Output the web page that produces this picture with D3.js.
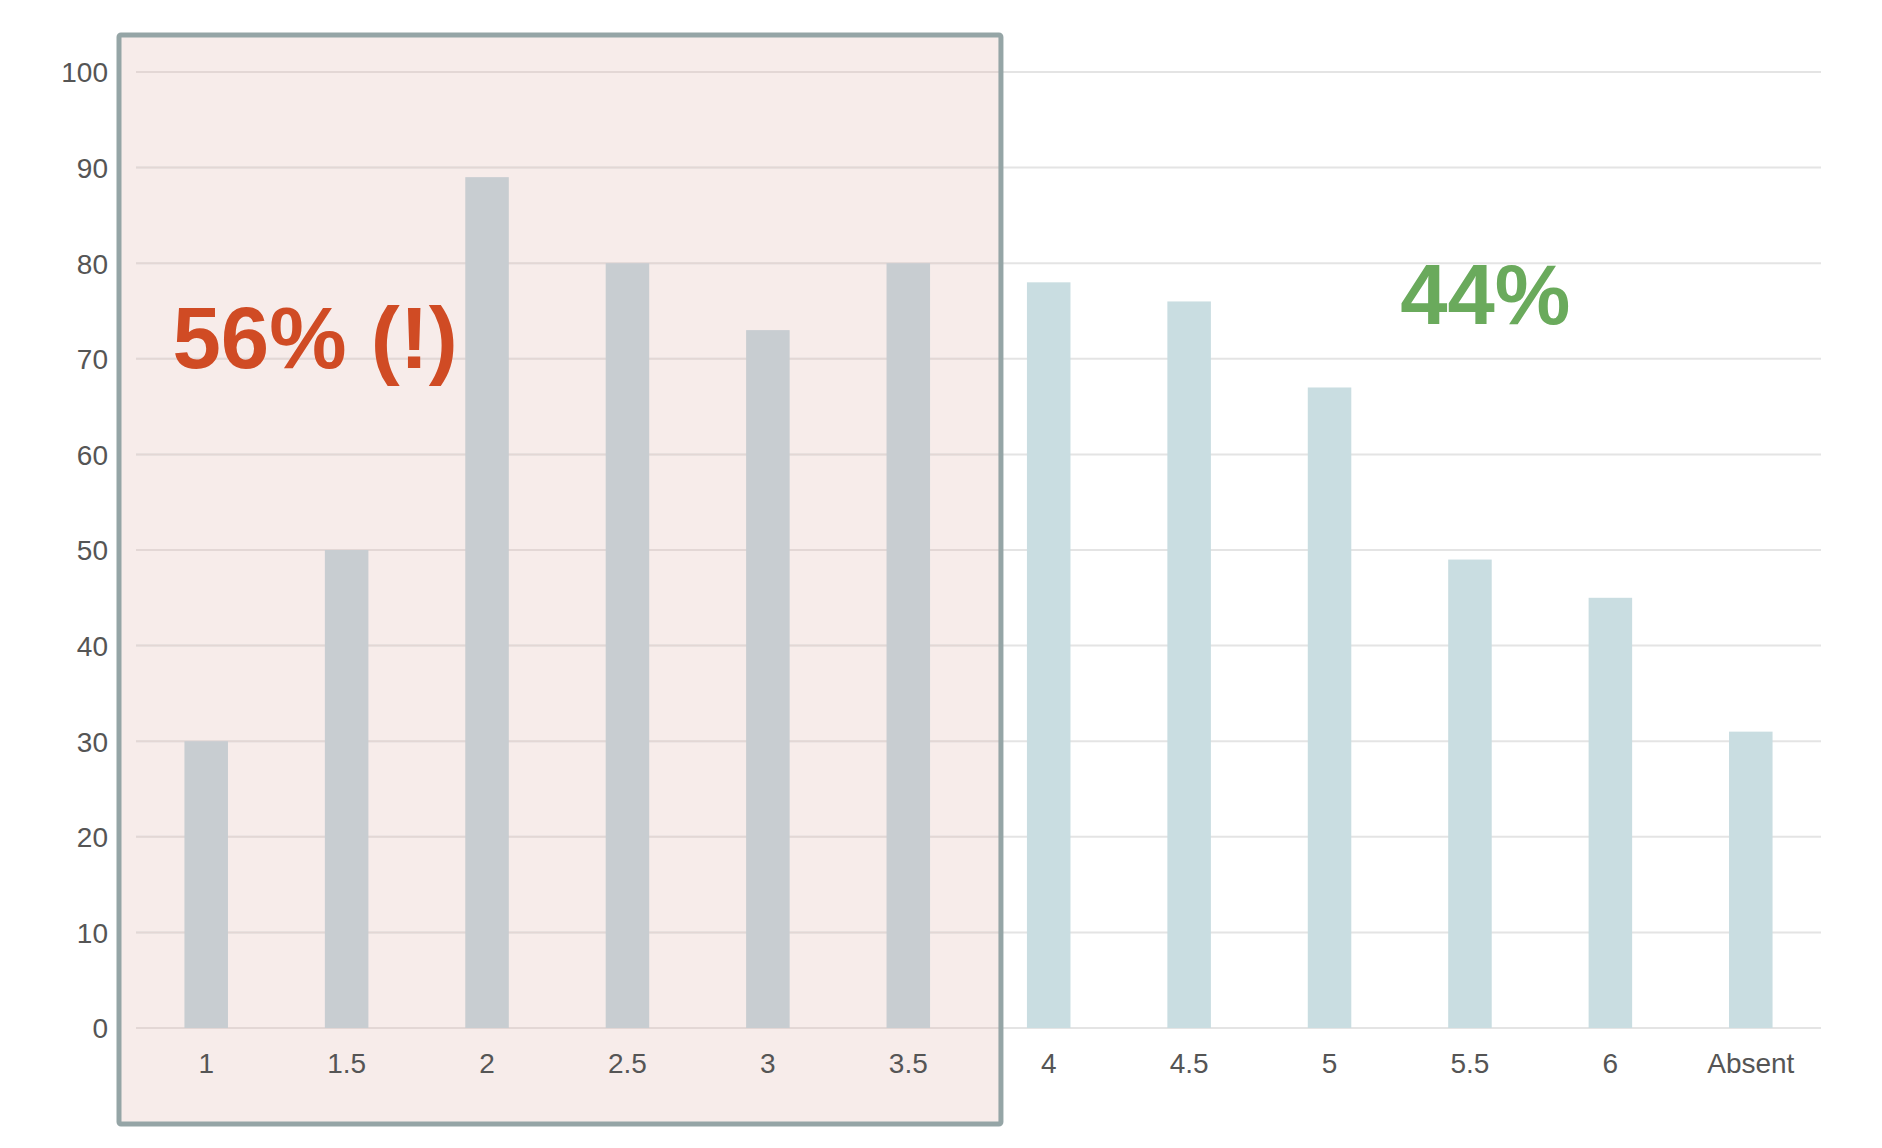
<!DOCTYPE html>
<html lang="en">
<head>
  <meta charset="UTF-8">
  <title>Score distribution</title>
  <script src="https://d3js.org/d3.v7.min.js"></script>
  <style>
    body { margin: 0; background: #fff; }
    svg { font-family: "Liberation Sans", Arial, sans-serif; display: block; }
    .tick text { fill: #555; font-size: 28px; }
  </style>
</head>
<body>
  <svg width="1882" height="1148"></svg>
  <script>
    const categories = ["1", "1.5", "2", "2.5", "3", "3.5", "4", "4.5", "5", "5.5", "6", "Absent"];
    const values = [30, 50, 89, 80, 73, 80, 78, 76, 67, 49, 45, 31];
    const yTicks = [0, 10, 20, 30, 40, 50, 60, 70, 80, 90, 100];
    const lowGroup = ["1", "1.5", "2", "2.5", "3", "3.5"];
    const lowLabel = "56% (!)";
    const highLabel = "44%";

    const data = categories.map((c, i) => ({ cat: c, value: values[i] }));

    const margin = { top: 72, right: 61, bottom: 120, left: 136 },
          width = 1882 - margin.left - margin.right,
          height = 1148 - margin.top - margin.bottom;

    const svg = d3.select("svg");
    const g = svg.append("g").attr("transform", `translate(${margin.left},${margin.top})`);

    const x = d3.scaleBand().domain(categories).range([0, width]).paddingInner(0.69).paddingOuter(0.345);
    const y = d3.scaleLinear().domain([0, 100]).range([height, 0]);

    // shaded box behind the low scores
    const boxLeft = -17, boxTop = -37;
    const boxRight = x("4") - 26;
    const boxBottom = height + 96;
    g.append("rect")
      .attr("x", boxLeft).attr("y", boxTop)
      .attr("width", boxRight - boxLeft).attr("height", boxBottom - boxTop)
      .attr("fill", "#f7ecea");

    // gridlines
    g.selectAll(".grid")
      .data(yTicks)
      .join("line")
      .attr("class", "grid")
      .attr("x1", 0).attr("x2", width)
      .attr("y1", d => y(d)).attr("y2", d => y(d))
      .attr("stroke", "#e4e4e4")
      .attr("stroke-width", 2);
    g.selectAll(".grid-in")
      .data(yTicks)
      .join("line")
      .attr("class", "grid-in")
      .attr("x1", 0).attr("x2", boxRight)
      .attr("y1", d => y(d)).attr("y2", d => y(d))
      .attr("stroke", "#e3d7d5")
      .attr("stroke-width", 2);

    // bars
    g.selectAll(".bar")
      .data(data)
      .join("rect")
      .attr("class", "bar")
      .attr("x", d => x(d.cat))
      .attr("width", x.bandwidth())
      .attr("y", d => y(d.value))
      .attr("height", d => y(0) - y(d.value))
      .attr("fill", d => lowGroup.includes(d.cat) ? "#c8cdd1" : "#c9dde1");

    // box outline
    g.append("rect")
      .attr("x", boxLeft).attr("y", boxTop)
      .attr("width", boxRight - boxLeft).attr("height", boxBottom - boxTop)
      .attr("fill", "none")
      .attr("stroke", "#95a5a6")
      .attr("stroke-width", 5)
      .attr("rx", 2);

    // axes
    const yAxis = g.append("g")
      .call(d3.axisLeft(y).tickValues(yTicks).tickSize(0).tickPadding(28));
    yAxis.select(".domain").remove();
    yAxis.selectAll("text").attr("dy", "0.35em");

    const xAxis = g.append("g")
      .attr("transform", `translate(0,${height})`)
      .call(d3.axisBottom(x).tickSize(0).tickPadding(25));
    xAxis.select(".domain").remove();

    // annotations
    g.append("text")
      .attr("x", x("1") - 12)
      .attr("y", y(69.0))
      .attr("fill", "#d04b24")
      .attr("font-weight", "bold")
      .attr("font-size", 87)
      .text(lowLabel);

    g.append("text")
      .attr("x", x("5.5") - 48)
      .attr("y", y(73.6))
      .attr("fill", "#6aaa5c")
      .attr("font-weight", "bold")
      .attr("font-size", 85)
      .text(highLabel);
  </script>
</body>
</html>
